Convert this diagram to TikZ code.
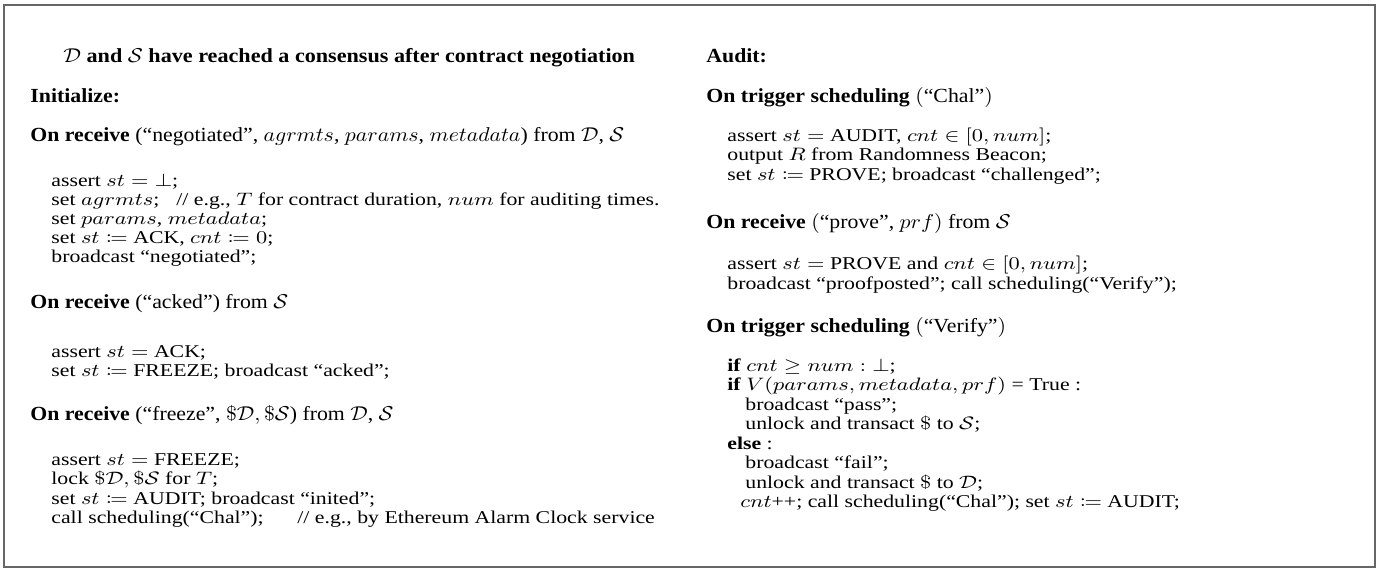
\documentclass[tikz,border=0pt]{standalone}
\usepackage{mathtools}
\usepackage{fontspec}
\setmainfont{Liberation Serif}
% body lines and heading lines are set slightly wide
\newcommand\sx[1]{\scalebox{1.21}[1]{#1}}
\newcommand\sh[1]{\scalebox{1.09}[1]{#1}}
\newcommand\sxt[1]{\scalebox{1.107}[1]{#1}}
\tikzset{
  txt/.style={anchor=base west, inner sep=0pt, font=\fontsize{9}{11}\selectfont},
  head/.style={anchor=base west, inner sep=0pt, font=\fontsize{10}{12}\selectfont},
  frame/.style={draw=black!60, line width=0.7pt}
}
\begin{document}
\begin{tikzpicture}[x=0.5pt, y=-0.5pt]
\useasboundingbox (0,0) rectangle (1379,570);
\draw[frame] (4,5) rectangle (1375,567);

% ---- left column: initialization ----
\node[head] (title) at (63,62) {\sxt{$\mathcal{D}$ \textbf{and} $\mathcal{S}$ \textbf{have reached a consensus after contract negotiation}}};
\node[head] (init) at (30,102) {\sh{\textbf{Initialize:}}};
\node[head] (r1) at (30,141) {\sh{\textbf{On receive} (“negotiated”, $agrmts$, $params$, $metadata$) from $\mathcal{D}$, $\mathcal{S}$}};
\node[txt] (r1a) at (51,186) {\sx{assert $st = \bot$;}};
\node[txt] (r1b) at (51,205) {\sx{set $agrmts$;}};
\node[txt] (c1) at (176,205) {\sx{// e.g., $T$ for contract duration, $num$ for auditing times.}};
\node[txt] (r1c) at (51,224) {\sx{set $params$, $metadata$;}};
\node[txt] (r1d) at (51,243) {\sx{set $st \coloneqq$ ACK, $cnt \coloneqq 0$;}};
\node[txt] (r1e) at (51,262) {\sx{broadcast “negotiated”;}};
\node[head] (r2) at (30,308) {\sh{\textbf{On receive} (“acked”) from $\mathcal{S}$}};
\node[txt] (r2a) at (51,357) {\sx{assert $st =$ ACK;}};
\node[txt] (r2b) at (51,376.5) {\sx{set $st \coloneqq$ FREEZE; broadcast “acked”;}};
\node[head] (r3) at (30,420) {\sh{\textbf{On receive} (“freeze”, $\$\mathcal{D}, \$\mathcal{S}$) from $\mathcal{D}$, $\mathcal{S}$}};
\node[txt] (r3a) at (51,465) {\sx{assert $st =$ FREEZE;}};
\node[txt] (r3b) at (51,484.5) {\sx{lock $\$\mathcal{D}, \$\mathcal{S}$\ for\ $T$;}};
\node[txt] (r3c) at (51,504) {\sx{set $st \coloneqq$ AUDIT; broadcast “inited”;}};
\node[txt] (r3d) at (51,523.5) {\sx{call scheduling(“Chal”);}};
\node[txt] (c2) at (297,523.5) {\sx{// e.g., by Ethereum Alarm Clock service}};

% ---- right column: audit ----
\node[head] (audit) at (706,62) {\sh{\textbf{Audit:}}};
\node[head] (t1) at (706,102) {\sh{\textbf{On trigger scheduling} $($“Chal”$)$}};
\node[txt] (t1a) at (727,141) {\sx{assert $st =$ AUDIT, $cnt \in [0, num]$;}};
\node[txt] (t1b) at (727,160.5) {\sx{output $R$ from Randomness Beacon;}};
\node[txt] (t1c) at (727,180) {\sx{set $st \coloneqq$ PROVE; broadcast “challenged”;}};
\node[head] (p1) at (706,228) {\sh{\textbf{On receive} $($“prove”, $prf)$ from $\mathcal{S}$}};
\node[txt] (p1a) at (727,269) {\sx{assert $st =$ PROVE and $cnt \in [0, num]$;}};
\node[txt] (p1b) at (727,289) {\sx{broadcast “proofposted”; call scheduling(“Verify”);}};
\node[head] (t2) at (706,332) {\sh{\textbf{On trigger scheduling} $($“Verify”$)$}};
\node[txt] (t2a) at (727,371) {\sx{\textbf{if} $cnt \geq num : \bot$;}};
\node[txt] (t2b) at (727,390.5) {\sx{\textbf{if} $V(params, metadata, prf)$ = True :}};
\node[txt] (t2c) at (745,410) {\sx{broadcast “pass”;}};
\node[txt] (t2d) at (745,429.5) {\sx{unlock and transact $\$$ to $\mathcal{S}$;}};
\node[txt] (t2e) at (727,449) {\sx{\textbf{else} :}};
\node[txt] (t2f) at (745,468.5) {\sx{broadcast “fail”;}};
\node[txt] (t2g) at (745,488) {\sx{unlock and transact $\$$ to $\mathcal{D}$;}};
\node[txt] (t2h) at (740,507.5) {\sx{$cnt$++; call scheduling(“Chal”); set $st \coloneqq$ AUDIT;}};
\end{tikzpicture}
\end{document}
